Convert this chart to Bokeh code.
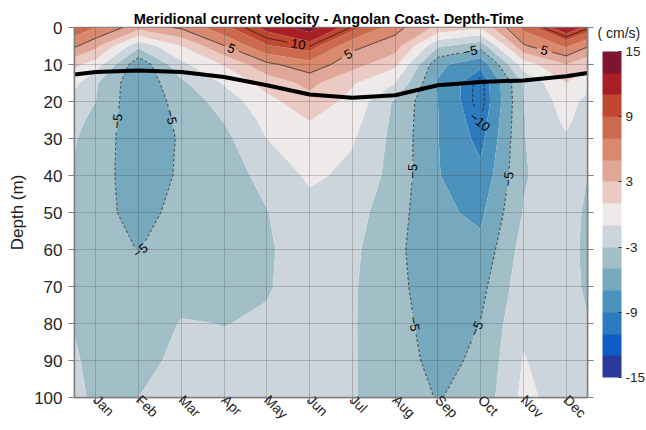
import math
import numpy as np
from contourpy import contour_generator
from bokeh.plotting import figure
from bokeh.models import (Range1d, FixedTicker, LinearAxis, ColorBar,
                          LinearColorMapper, Title)
from bokeh.core.properties import value
from bokeh.embed import file_html
from bokeh.resources import INLINE

# ---------------- data ----------------
month_labels = ["Jan", "Feb", "Mar", "Apr", "May", "Jun",
                "Jul", "Aug", "Sep", "Oct", "Nov", "Dec"]
month_ticks = [1, 2, 3, 4, 5, 6, 7, 8, 9, 10, 11, 12]
# column positions of the gridded field (months; edges of the section at 0.5 / 12.5)
x_months = [0.5, 1, 2, 3, 4, 5, 6, 7, 8, 9, 10, 11, 12, 12.5]
depths = [0, 5, 10, 15, 20, 25, 30, 40, 50, 60, 70, 80, 90, 100]
depth_ticks = [0, 10, 20, 30, 40, 50, 60, 70, 80, 90, 100]

# meridional velocity (cm/s) per column, top to bottom
v_left = [8.5, 5.3, 1.5, -0.5, -1.8, -2.4, -2.85, -3.2, -3.4, -3.4, -3.3, -3.1, -2.8, -2.6]
v_jan = [7.0, 3.5, 0.0, -2.8, -3.0, -3.6, -3.95, -4.2, -4.4, -4.3, -4.0, -3.7, -3.5, -3.3]
v_feb = [3.8, -2.5, -6.5, -6.6, -6.6, -6.4, -6.2, -6.0, -5.6, -5.05, -4.6, -4.0, -3.5, -3.0]
v_mar = [5.3, 1.0, -1.5, -3.4, -4.18, -4.6, -4.8, -4.75, -4.45, -4.1, -3.6, -2.9, -2.6, -2.4]
v_apr = [8.5, 4.9, 1.2, -0.8, -2.2, -2.9, -3.5, -3.6, -3.7, -3.7, -3.45, -3.03, -2.7, -2.5]
v_may = [11.6, 8.8, 4.5, 1.8, 0.4, -0.4, -1.0, -2.6, -3.05, -3.2, -3.1, -2.85, -2.6, -2.4]
v_jun = [14.0, 10.05, 6.2, 3.6, 2.2, 1.05, 0.2, -0.6, -1.8, -2.2, -2.4, -2.3, -2.2, -2.1]
v_jul = [9.8, 5.5, 3.8, 1.2, 0.4, -0.2, -0.8, -1.5, -2.2, -2.6, -2.8, -2.85, -2.85, -2.85]
v_aug = [5.7, 4.0, 1.5, -1.0, -3.3, -3.5, -3.6, -3.7, -4.2, -4.5, -4.3, -4.2, -4.1, -4.0]
v_sep = [2.5, -2.7, -6.5, -7.2, -7.0, -6.95, -6.95, -6.9, -6.6, -6.5, -6.5, -6.0, -5.6, -5.1]
v_oct = [1.2, -4.3, -8.5, -10.6, -10.7, -10.1, -9.6, -8.5, -7.4, -6.5, -5.6, -4.95, -4.6, -4.3]
v_nov = [7.5, 4.7, 0.0, -2.85, -3.05, -3.1, -3.1, -3.2, -2.9, -2.2, -1.8, -1.3, -0.9, -0.5]
v_dec = [12.8, 7.3, 3.0, 1.0, -0.12, -0.6, -1.2, -1.6, -2.0, -2.2, -2.3, -2.2, -2.0, -1.9]
v_right = [10.3, 5.2, 1.5, -0.3, -1.6, -2.0, -2.4, -3.0, -3.4, -3.5, -3.3, -2.9, -2.6, -2.4]

# thick black line (depth, m) at the same column positions
mld_depth = [12.7, 12.0, 11.6, 12.0, 13.4, 15.6, 18.1, 19.0, 18.3, 15.6, 14.7, 14.3, 13.2, 12.3]

fill_levels = [-15, -13, -11, -9, -7, -5, -3, -1, 1, 3, 5, 7, 9, 11, 13, 15]
line_levels = [-10, -5, 5, 10]
cbar_ticks = [-15, -9, -3, 3, 9, 15]

palette = ["#2b3a9c", "#0f5cc4", "#2a7bc0", "#4b93bd", "#76a9bd", "#a2bfc8",
           "#cdd5dc", "#eeeaea", "#ebcac4", "#e0a698", "#d98a6e", "#cc6a4e",
           "#c04730", "#a82025", "#7e1530"]

FONT = "Liberation Sans"

columns = [v_left, v_jan, v_feb, v_mar, v_apr, v_may, v_jun, v_jul,
           v_aug, v_sep, v_oct, v_nov, v_dec, v_right]
Z = np.array(columns, dtype=float).T          # shape (depth, x)
X = np.array(x_months, dtype=float)
D = np.array(depths, dtype=float)

# ---------------- figure ----------------
W, H = 646, 430
BL, BR, BT, BB = 74, 59, 27, 32
x_lo, x_hi = x_months[0], x_months[-1]

p = figure(width=W, height=H, x_range=Range1d(x_lo, x_hi), y_range=Range1d(100, 0),
           output_backend="svg", toolbar_location=None,
           min_border_left=BL, min_border_right=BR, min_border_top=BT, min_border_bottom=BB)
p.background_fill_color = "white"
p.outline_line_color = "#808080"
p.outline_line_width = 1.5

p.title = Title(text="Meridional current velocity - Angolan Coast-  Depth-Time",
                align="center", text_font=FONT, text_font_size="14.6px",
                text_font_style="bold", text_color="black", standoff=1)

# filled contours
p.contour(x=X, y=D, z=Z, levels=fill_levels, fill_color=palette, line_color=None)

# contour lines with inline labels
frame_w = W - BL - BR
frame_h = H - BT - BB
sx = frame_w / (x_hi - x_lo)
sy = frame_h / 100.0
gen = contour_generator(x=X, y=D, z=Z)

dash_xs, dash_ys, sol_xs, sol_ys = [], [], [], []
lab_x, lab_y, lab_t, lab_a = [], [], [], []
for lev in line_levels:
    txt = ("%g" % lev).replace("-", "\u2212")
    half_gap = len(txt) * 3.8 + 3
    for path in gen.lines(lev):
        px = (path[:, 0] - x_lo) * sx
        py = path[:, 1] * sy
        seg = np.hypot(np.diff(px), np.diff(py))
        s = np.concatenate([[0.0], np.cumsum(seg)])
        L = s[-1]
        if L <= 0:
            continue
        ss = np.linspace(0, L, max(int(L), 2) + 1)
        rx = np.interp(ss, s, px)
        ry = np.interp(ss, s, py)
        n = 0 if L < 70 else max(1, int(round(L / 160.0)))
        mask = np.ones_like(ss, dtype=bool)
        for k in range(n):
            sk = (k + 0.5) * L / n
            x0, y0 = np.interp(sk, s, px), np.interp(sk, s, py)
            xa, ya = np.interp(max(sk - 8, 0), s, px), np.interp(max(sk - 8, 0), s, py)
            xb, yb = np.interp(min(sk + 8, L), s, px), np.interp(min(sk + 8, L), s, py)
            ang = math.atan2(-(yb - ya), xb - xa)
            if ang > math.pi / 2:
                ang -= math.pi
            elif ang <= -math.pi / 2:
                ang += math.pi
            lab_x.append(x0 / sx + x_lo)
            lab_y.append(y0 / sy)
            lab_t.append(txt)
            lab_a.append(ang)
            mask &= np.abs(ss - sk) > half_gap
        runs = []
        cur = []
        for i in range(len(ss)):
            if mask[i]:
                cur.append(i)
            else:
                if len(cur) > 1:
                    runs.append(cur)
                cur = []
        if len(cur) > 1:
            runs.append(cur)
        for r in runs:
            xs = list(rx[r] / sx + x_lo)
            ys = list(ry[r] / sy)
            if lev < 0:
                dash_xs.append(xs); dash_ys.append(ys)
            else:
                sol_xs.append(xs); sol_ys.append(ys)

p.multi_line(sol_xs, sol_ys, line_color="#1a1a1a", line_width=0.8)
p.multi_line(dash_xs, dash_ys, line_color="#1a1a1a", line_width=0.8, line_dash="3 2")
p.text(x=lab_x, y=lab_y, text=lab_t, angle=lab_a, text_align="center",
       text_baseline="middle", text_font=value(FONT), text_font_size="13px",
       text_color="black")

# thick line
p.line(x=x_months, y=mld_depth, line_color="black", line_width=4)

# grid
p.xgrid.ticker = FixedTicker(ticks=month_ticks)
p.ygrid.ticker = FixedTicker(ticks=depth_ticks)
for g in (p.xgrid, p.ygrid):
    g.grid_line_color = "#3a3a3a"
    g.grid_line_alpha = 0.25
    g.grid_line_width = 1
    g.level = "guide"

# axes
ax = p.xaxis[0]
ax.ticker = FixedTicker(ticks=month_ticks)
ax.major_label_overrides = {m: lab for m, lab in zip(month_ticks, month_labels)}
ax.major_label_orientation = -math.pi / 4
ax.major_label_text_font = FONT
ax.major_label_text_font_size = "14px"
ax.major_label_text_color = "#262626"
ax.major_label_standoff = -6

ay = p.yaxis[0]
ay.ticker = FixedTicker(ticks=depth_ticks)
ay.axis_label = "Depth (m)"
ay.axis_label_text_font = FONT
ay.axis_label_text_font_size = "17px"
ay.axis_label_text_font_style = "normal"
ay.axis_label_text_color = "#1a1a1a"
ay.axis_label_standoff = 4
ay.major_label_text_font = FONT
ay.major_label_text_font_size = "17px"
ay.major_label_text_color = "#262626"
ay.major_label_standoff = 6

ar = LinearAxis(ticker=FixedTicker(ticks=depth_ticks))
ar.major_label_overrides = {t: "" for t in depth_ticks}
ar.major_label_standoff = 0
p.add_layout(ar, "right")

for a in (ax, ay, ar):
    a.axis_line_color = "#808080"
    a.axis_line_width = 1.5
    a.major_tick_line_color = "#808080"
    a.major_tick_line_width = 1.2
    a.major_tick_out = 6
    a.major_tick_in = 0
    a.minor_tick_line_color = None

# colour bar (placed beside the frame)
mapper = LinearColorMapper(palette=palette, low=-15, high=15)
cb = ColorBar(color_mapper=mapper, ticker=FixedTicker(ticks=cbar_ticks),
              major_label_overrides={t: str(t) for t in cbar_ticks},
              width=19, height=326,
              major_label_text_font=FONT, major_label_text_font_size="13.5px",
              major_label_text_color="#262626", label_standoff=4,
              major_tick_line_color="#333333", major_tick_in=3, major_tick_out=0,
              bar_line_color=None, padding=0, margin=0,
              background_fill_color=None, border_line_color=None,
              location=(frame_w + 15, 20))
p.add_layout(cb)

# units caption: a transparent horizontal bar whose (horizontal) title is the caption
unit_cb = ColorBar(color_mapper=LinearColorMapper(palette=["#ffffff"], low=0, high=1),
                   orientation="horizontal", width=40, height=1, scale_alpha=0,
                   ticker=FixedTicker(ticks=[]), major_tick_line_color=None,
                   minor_tick_line_color=None, bar_line_color=None,
                   title="( cm/s)", title_text_font=FONT, title_text_font_size="14px",
                   title_text_font_style="normal", title_text_color="#1a1a1a",
                   title_standoff=0, padding=0, margin=0,
                   background_fill_color=None, border_line_color=None,
                   location=(frame_w + 10, frame_h - 15))
p.add_layout(unit_cb)

open("out.html", "w").write(file_html(p, INLINE))
